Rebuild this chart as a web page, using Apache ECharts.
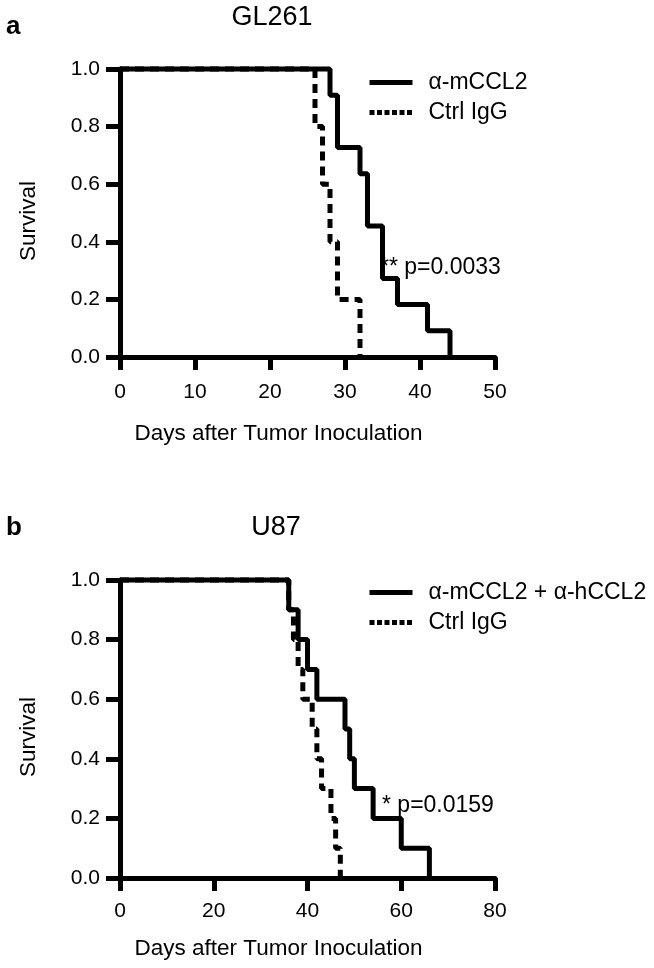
<!DOCTYPE html>
<html>
<head>
<meta charset="utf-8">
<script src="https://cdn.jsdelivr.net/npm/echarts@6/dist/echarts.min.js"></script>
<style>
  html, body { margin: 0; padding: 0; background: #fff; }
  #chart { width: 654px; height: 968px; }
</style>
</head>
<body>
<div id="chart"></div>
<script>
// panel a : GL261 (days, survival fraction)
const daysA_anti = [0, 28, 29, 32, 33, 35, 37, 41, 44]
const survA_anti = [1, 0.909, 0.727, 0.636, 0.455, 0.273, 0.182, 0.091, 0]
const daysA_ctrl = [0, 26, 27, 28, 29, 32]
const survA_ctrl = [1, 0.8, 0.6, 0.4, 0.2, 0]

// panel b : U87
const daysB_anti = [0, 36, 38, 40, 42, 48, 49, 50, 54, 60, 66]
const survB_anti = [1, 0.9, 0.8, 0.7, 0.6, 0.5, 0.4, 0.3, 0.2, 0.1, 0]
const daysB_ctrl = [0, 36, 37, 38, 39, 41, 42, 43, 45, 46, 47]
const survB_ctrl = [1, 0.9, 0.8, 0.7, 0.6, 0.5, 0.4, 0.3, 0.2, 0.1, 0]

const namesA = ['α-mCCL2', 'Ctrl IgG']
const namesB = ['α-mCCL2 + α-hCCL2', 'Ctrl IgG']

const font = "'Liberation Sans', Arial, sans-serif"

const pairs = (xs, ys) => xs.map((x, i) => [x, ys[i]])

function xAxisOf (gridIndex, max, interval, labelMargin, nameGap) {
  return {
    type: 'value',
    gridIndex: gridIndex,
    min: 0,
    max: max,
    interval: interval,
    name: 'Days after Tumor Inoculation',
    nameLocation: 'middle',
    nameGap: nameGap,
    // right padding pulls the name a bit to the left, as in the figure
    nameTextStyle: { fontFamily: font, fontSize: 22.5, color: '#000', padding: [0, 58, 0, 0] },
    axisLine: { onZero: false, lineStyle: { color: '#000', width: 5 } },
    axisTick: { inside: false, length: 13, lineStyle: { color: '#000', width: 5 } },
    axisLabel: { margin: labelMargin, fontFamily: font, fontSize: 21, color: '#000' },
    splitLine: { show: false }
  }
}

function yAxisOf (gridIndex) {
  return {
    type: 'value',
    gridIndex: gridIndex,
    min: 0,
    max: 1,
    interval: 0.2,
    name: 'Survival',
    nameLocation: 'middle',
    nameGap: 80,
    nameTextStyle: { fontFamily: font, fontSize: 22.5, color: '#000', padding: [0, 16, 0, 0] },
    axisLine: { onZero: false, lineStyle: { color: '#000', width: 5 } },
    axisTick: { inside: false, length: 14, lineStyle: { color: '#000', width: 5 } },
    axisLabel: {
      margin: 20,
      fontFamily: font,
      fontSize: 21,
      color: '#000',
      formatter: v => v.toFixed(1)
    },
    splitLine: { show: false }
  }
}

function curve (name, xs, ys, axisIndex, dashed) {
  return {
    name: name,
    type: 'line',
    xAxisIndex: axisIndex,
    yAxisIndex: axisIndex,
    step: 'end',
    symbol: 'none',
    clip: false,
    z: dashed ? 2 : 3,
    itemStyle: { color: '#000' },
    lineStyle: { color: '#000', width: 5, type: dashed ? [9, 6] : 'solid' },
    data: pairs(xs, ys)
  }
}

function legendOf (names, top) {
  return {
    orient: 'vertical',
    left: 362,
    top: top,
    itemWidth: 43,
    itemHeight: 21,
    itemGap: 7,
    selectedMode: false,
    itemStyle: { opacity: 0 },
    lineStyle: { width: 5 },
    textStyle: { fontFamily: font, fontSize: 23, color: '#000', padding: [0, 0, 0, 11] },
    data: [
      { name: names[0] },
      { name: names[1], lineStyle: { width: 5, type: [5, 2.5] } }
    ]
  }
}

function label (text, x, y, size, weight, align) {
  return {
    type: 'text',
    x: x,
    y: y,
    style: {
      text: text,
      fontFamily: font,
      fontSize: size,
      fontWeight: weight || 'normal',
      fill: '#000',
      align: align || 'left',
      verticalAlign: 'middle'
    }
  }
}

const chart = echarts.init(document.getElementById('chart'))

chart.setOption({
  backgroundColor: '#fff',
  animation: false,
  grid: [
    { left: 120, top: 69, width: 375, height: 288 },
    { left: 120, top: 580, width: 375, height: 298 }
  ],
  xAxis: [xAxisOf(0, 50, 10, 25, 65), xAxisOf(1, 80, 20, 23, 59)],
  yAxis: [yAxisOf(0), yAxisOf(1)],
  legend: [legendOf(namesA, 66), legendOf(namesB, 576)],
  series: [
    curve(namesA[1], daysA_ctrl, survA_ctrl, 0, true),
    curve(namesA[0], daysA_anti, survA_anti, 0, false),
    curve(namesB[1], daysB_ctrl, survB_ctrl, 1, true),
    curve(namesB[0], daysB_anti, survB_anti, 1, false)
  ],
  graphic: [
    label('a', 6, 27, 26, 'bold'),
    label('GL261', 272, 18, 27, 'normal', 'center'),
    label('b', 6, 528, 26, 'bold'),
    label('U87', 276, 528, 27, 'normal', 'center'),
    label('** p=0.0033', 380, 268, 23),
    label('* p=0.0159', 382, 806, 23)
  ]
})
</script>
</body>
</html>
